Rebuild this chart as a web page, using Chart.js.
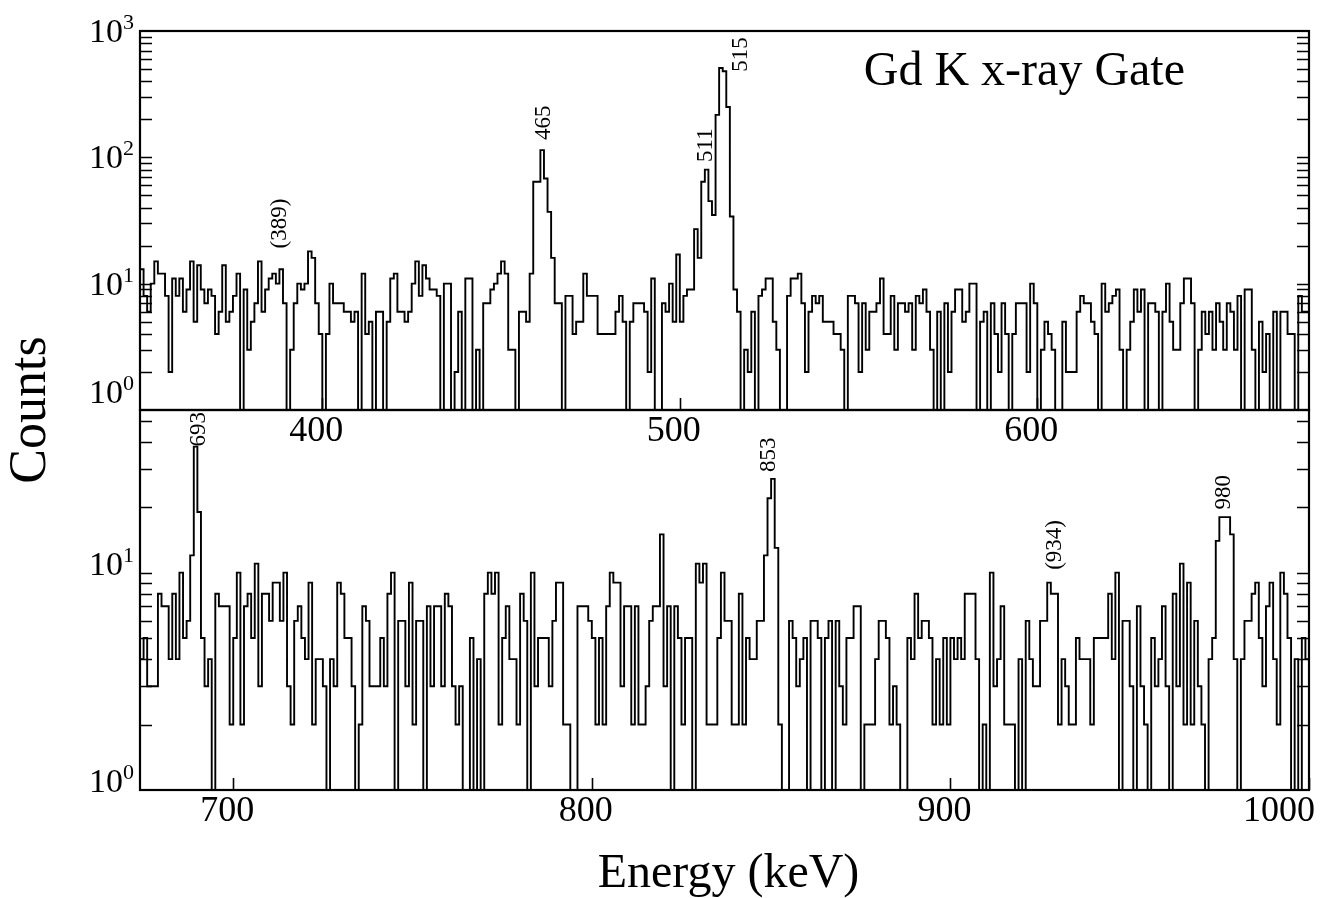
<!DOCTYPE html>
<html>
<head>
<meta charset="utf-8">
<title>Gd K x-ray Gate</title>
<script src="https://cdn.jsdelivr.net/npm/chart.js@4.4.1/dist/chart.umd.min.js"></script>
<style>
  body { margin: 0; background: #fff; }
  #wrap { position: relative; width: 1321px; height: 898px; }
  #wrap canvas { position: absolute; left: 0; top: 0; }
</style>
</head>
<body>
<div id="wrap">
  <canvas id="lowChart" width="1321" height="898"></canvas>
  <canvas id="highChart" width="1321" height="898"></canvas>
</div>
<script>
// upper panel: 1 keV bins starting at 349 keV
const topFirstBin = 349;
const topCounts = [
  13, 8, 6, 10, 15, 12, 12, 8, 2, 11,
  8, 11, 6, 9, 15, 5, 14, 9, 7, 9,
  8, 4, 6, 14, 5, 6, 8, 12, 1, 9,
  3, 5, 7, 15, 6, 9, 11, 12, 10, 13,
  7, 1, 3, 7, 10, 9, 10, 18, 16, 7,
  4, 1, 4, 10, 7, 7, 7, 6, 6, 5,
  6, 1, 12, 4, 5, 1, 6, 6, 1, 5,
  11, 12, 6, 6, 5, 6, 10, 15, 8, 14,
  11, 9, 9, 8, 1, 10, 10, 1, 2, 6,
  1, 11, 11, 1, 3, 1, 7, 7, 9, 10,
  12, 15, 12, 3, 3, 1, 6, 6, 5, 12,
  64, 64, 114, 68, 37, 16, 7, 7, 1, 8,
  8, 4, 5, 5, 12, 8, 8, 8, 4, 4,
  4, 4, 4, 6, 8, 5, 1, 5, 7, 7,
  7, 6, 2, 11, 1, 1, 7, 6, 10, 5,
  17, 5, 8, 9, 9, 27, 16, 64, 80, 45,
  35, 217, 510, 480, 250, 34, 9, 6, 1, 3,
  2, 6, 1, 8, 9, 11, 11, 5, 3, 1,
  1, 8, 11, 11, 12, 7, 2, 6, 8, 7,
  8, 5, 5, 5, 4, 4, 3, 1, 8, 8,
  7, 2, 7, 3, 6, 6, 7, 11, 4, 4,
  8, 3, 7, 7, 6, 7, 3, 8, 7, 9,
  6, 3, 1, 6, 1, 7, 2, 6, 9, 9,
  5, 6, 10, 10, 1, 5, 6, 1, 7, 4,
  2, 7, 4, 1, 4, 7, 7, 7, 2, 10,
  7, 1, 3, 5, 4, 3, 1, 1, 5, 2,
  2, 2, 6, 8, 7, 7, 5, 4, 1, 10,
  6, 7, 8, 9, 3, 1, 3, 5, 9, 6,
  9, 1, 7, 7, 6, 1, 6, 10, 5, 3,
  3, 7, 11, 11, 7, 1, 3, 6, 4, 6,
  3, 7, 5, 3, 7, 6, 3, 8, 1, 9,
  9, 3, 1, 5, 2, 4, 1, 6, 1, 6,
  6, 4, 4, 1, 8, 6, 6
];

// lower panel: 1 keV bins starting at 674 keV
const bottomFirstBin = 674;
const bottomCounts = [
  4, 5, 3, 3, 3, 8, 7, 7, 4, 8,
  4, 10, 5, 6, 12, 38, 19, 5, 3, 4,
  1, 8, 7, 7, 7, 2, 5, 10, 2, 7,
  8, 5, 11, 3, 8, 8, 6, 9, 9, 6,
  10, 3, 2, 6, 7, 5, 4, 9, 2, 4,
  4, 3, 1, 4, 3, 9, 8, 5, 5, 3,
  1, 2, 7, 6, 3, 3, 3, 5, 3, 8,
  10, 1, 6, 6, 3, 9, 2, 6, 6, 1,
  7, 3, 7, 7, 3, 8, 7, 3, 2, 3,
  1, 1, 5, 1, 4, 1, 8, 10, 8, 10,
  2, 5, 7, 4, 4, 2, 8, 6, 1, 10,
  3, 5, 5, 5, 3, 6, 9, 9, 2, 2,
  1, 1, 7, 7, 7, 6, 5, 2, 5, 2,
  7, 10, 9, 9, 3, 7, 7, 2, 7, 2,
  2, 3, 6, 7, 7, 15, 3, 7, 1, 7,
  5, 2, 5, 5, 1, 11, 9, 11, 2, 2,
  2, 5, 10, 6, 6, 2, 2, 8, 2, 5,
  4, 4, 6, 6, 12, 22, 27, 13, 2, 1,
  1, 6, 5, 3, 4, 5, 1, 6, 6, 5,
  1, 5, 6, 1, 6, 3, 2, 5, 5, 7,
  7, 1, 2, 2, 2, 4, 6, 6, 5, 2,
  3, 2, 1, 1, 5, 4, 8, 5, 6, 6,
  5, 2, 4, 2, 5, 2, 5, 4, 5, 4,
  8, 8, 8, 4, 1, 2, 1, 10, 3, 4,
  7, 2, 2, 2, 1, 4, 1, 6, 4, 3,
  3, 6, 6, 9, 8, 8, 2, 4, 3, 2,
  2, 5, 4, 4, 4, 2, 5, 5, 5, 5,
  8, 4, 10, 1, 6, 6, 3, 1, 7, 3,
  2, 1, 5, 3, 4, 7, 3, 1, 8, 3,
  11, 2, 9, 2, 6, 3, 2, 1, 4, 5,
  14, 18, 18, 18, 15, 4, 1, 4, 6, 6,
  8, 9, 5, 3, 7, 9, 4, 2, 10, 8,
  5, 1, 4, 1, 5, 4
];

const topEnergyRange = [349, 676];
const bottomEnergyRange = [674, 1000];
const topCountRange = [1, 1000];
const bottomCountRange = [1, 56];

const topTickLabels = [400, 500, 600];
const bottomTickLabels = [700, 800, 900, 1000];
const topDecades = [0, 1, 2, 3];
const bottomDecades = [0, 1];

const topPeakText = ['(389)', '465', '511', '515'];
const topPeakEnergy = [388.2, 461.9, 507.3, 517.1];
const topPeakCount = [19, 137, 92, 475];
const bottomPeakText = ['693', '853', '(934)', '980'];
const bottomPeakEnergy = [690.5, 849.4, 929.2, 976.3];
const bottomPeakCount = [38, 29, 10.3, 19.5];

const serif = "'Liberation Serif', 'Times New Roman', serif";

function toSteps(first, counts) {
  const pts = counts.map((c, i) => ({ x: first + i, y: c }));
  pts.push({ x: first + counts.length, y: counts[counts.length - 1] });
  return pts;
}

function panelFrame(opts) {
  return {
    id: 'panelFrame',
    afterDraw(chart) {
      const ctx = chart.ctx;
      const area = chart.chartArea;
      const xs = chart.scales.x;
      const ys = chart.scales.y;
      ctx.save();
      ctx.strokeStyle = '#000';
      ctx.fillStyle = '#000';

      ctx.lineWidth = 2.2;
      ctx.strokeRect(area.left, area.top, area.right - area.left, area.bottom - area.top);

      // log ticks on both sides, pointing in
      ctx.lineWidth = 1.6;
      ctx.beginPath();
      for (let d = 0; d < 4; d++) {
        for (let m = 1; m < 10; m++) {
          const v = m * Math.pow(10, d);
          if (v <= ys.min || v >= ys.max) continue;
          const y = Math.round(ys.getPixelForValue(v)) + 0.5;
          ctx.moveTo(area.left, y);
          ctx.lineTo(area.left + 12, y);
          ctx.moveTo(area.right, y);
          ctx.lineTo(area.right - 12, y);
        }
      }
      opts.xLabels.forEach(v => {
        const x = Math.round(xs.getPixelForValue(v)) + 0.5;
        ctx.moveTo(x, area.bottom);
        ctx.lineTo(x, area.bottom - 12);
      });
      ctx.stroke();

      ctx.font = '36px ' + serif;
      ctx.textBaseline = 'alphabetic';
      opts.xLabels.forEach(v => {
        const x = xs.getPixelForValue(v);
        if (x > area.right - 20) {
          ctx.textAlign = 'right';
          ctx.fillText(String(v), x + 6, area.bottom + 31);
        } else {
          ctx.textAlign = 'center';
          ctx.fillText(String(v), x - 6, area.bottom + 31);
        }
      });

      opts.decades.forEach(d => {
        const y = ys.getPixelForValue(Math.pow(10, d));
        const base = (d === 0 && opts.lowLabelUp) ? y - 7 : y + opts.labelShift;
        ctx.font = '34px ' + serif;
        ctx.textAlign = 'right';
        ctx.fillText('10', area.left - 17, base);
        ctx.font = '22px ' + serif;
        ctx.textAlign = 'left';
        ctx.fillText(String(d), area.left - 17, base - 13);
      });

      ctx.font = '23px ' + serif;
      opts.peakText.forEach((t, i) => {
        const x = xs.getPixelForValue(opts.peakEnergy[i]);
        const y = ys.getPixelForValue(opts.peakCount[i]);
        ctx.save();
        ctx.translate(x, y);
        ctx.rotate(-Math.PI / 2);
        ctx.textAlign = 'left';
        ctx.textBaseline = 'middle';
        ctx.fillText(t, 0, 0);
        ctx.restore();
      });

      if (opts.extra) opts.extra(ctx, area);
      ctx.restore();
    }
  };
}

function makeOptions(xRange, yRange, padding) {
  return {
    responsive: false,
    animation: false,
    events: [],
    layout: { padding: padding },
    plugins: { legend: { display: false }, tooltip: { enabled: false } },
    scales: {
      x: { type: 'linear', display: false, min: xRange[0], max: xRange[1] },
      y: { type: 'logarithmic', display: false, min: yRange[0], max: yRange[1] }
    }
  };
}

function lineSet(first, counts) {
  return {
    data: toSteps(first, counts),
    borderColor: '#000',
    borderWidth: 1.9,
    pointRadius: 0,
    stepped: true,
    fill: false
  };
}

new Chart(document.getElementById('lowChart'), {
  type: 'line',
  data: { datasets: [lineSet(bottomFirstBin, bottomCounts)] },
  options: makeOptions(bottomEnergyRange, bottomCountRange, { left: 140, right: 12, top: 410, bottom: 108 }),
  plugins: [panelFrame({
    xLabels: bottomTickLabels,
    decades: bottomDecades,
    labelShift: 2,
    lowLabelUp: false,
    peakText: bottomPeakText,
    peakEnergy: bottomPeakEnergy,
    peakCount: bottomPeakCount,
    extra(ctx, area) {
      ctx.font = '48px ' + serif;
      ctx.textAlign = 'center';
      ctx.textBaseline = 'alphabetic';
      ctx.fillText('Energy (keV)', (area.left + area.right) / 2 + 4, 887);
    }
  })]
});

new Chart(document.getElementById('highChart'), {
  type: 'line',
  data: { datasets: [lineSet(topFirstBin, topCounts)] },
  options: makeOptions(topEnergyRange, topCountRange, { left: 140, right: 12, top: 31, bottom: 488 }),
  plugins: [panelFrame({
    xLabels: topTickLabels,
    decades: topDecades,
    labelShift: 11,
    lowLabelUp: true,
    peakText: topPeakText,
    peakEnergy: topPeakEnergy,
    peakCount: topPeakCount,
    extra(ctx, area) {
      ctx.font = '48px ' + serif;
      ctx.textAlign = 'right';
      ctx.textBaseline = 'alphabetic';
      ctx.fillText('Gd K x-ray Gate', area.right - 124, area.top + 54);

      ctx.save();
      ctx.translate(45, 410);
      ctx.rotate(-Math.PI / 2);
      ctx.font = '52px ' + serif;
      ctx.textAlign = 'center';
      ctx.fillText('Counts', 0, 0);
      ctx.restore();
    }
  })]
});
</script>
</body>
</html>
